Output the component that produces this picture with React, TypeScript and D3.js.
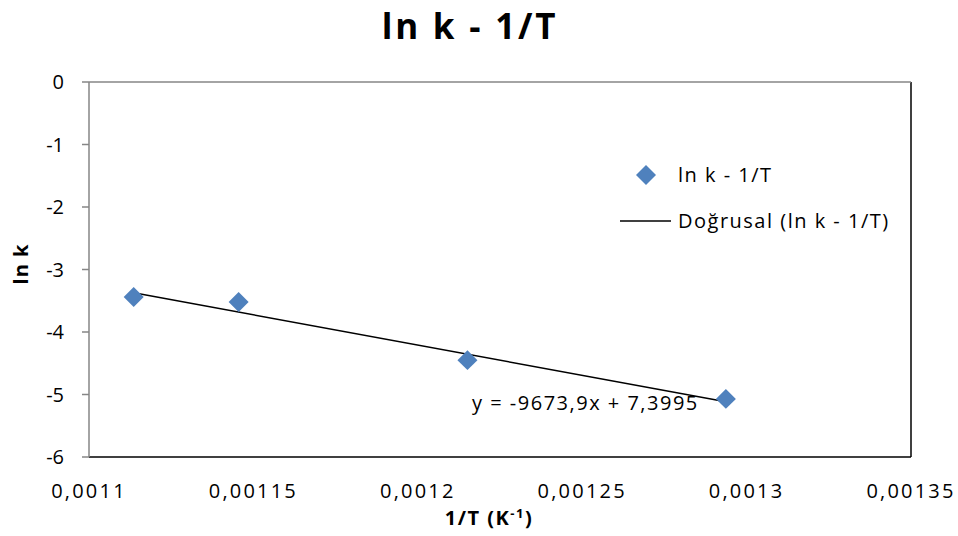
import React from 'react';
import { scaleLinear, line, symbol, symbolSquare } from 'd3';

// 1/T (K^-1) and ln k values
const invT = [0.0011136, 0.0011455, 0.0012151, 0.0012937];
const lnK = [-3.44, -3.52, -4.45, -5.07];
const xTicks = [0.0011, 0.00115, 0.0012, 0.00125, 0.0013, 0.00135];
const xTickLabels = ['0,0011', '0,00115', '0,0012', '0,00125', '0,0013', '0,00135'];
const yTicks = [0, -1, -2, -3, -4, -5, -6];
// trendline shown on the chart
const slope = -9673.9;
const intercept = 7.3995;
const eqLabel = 'y = -9673,9x + 7,3995';

const W = 958;
const H = 536;
const margin = { top: 82, right: 47, bottom: 79, left: 89 };
const font = '"Open Sans", Lato, sans-serif';
const fs = 20;

export default function App() {
  const w = W - margin.left - margin.right;
  const h = H - margin.top - margin.bottom;

  const x = scaleLinear().domain([0.0011, 0.00135]).range([0, w]);
  const y = scaleLinear().domain([-6, 0]).range([h, 0]);

  const xMin = Math.min(...invT);
  const xMax = Math.max(...invT);
  const trend = line<number>()
    .x((d) => x(d))
    .y((d) => y(slope * d + intercept));

  // excel-style diamond: square turned 45 degrees
  const diamond = symbol().type(symbolSquare).size(200)();

  return (
    <svg width={W} height={H} style={{ position: 'absolute', left: 0, top: 0, background: '#fff' }}>
      <text x={470} y={39} textAnchor="middle" fontFamily={font} fontWeight="bold" fontSize={35} letterSpacing={2.8}>
        ln k - 1/T
      </text>

      <g transform={`translate(${margin.left},${margin.top})`}>
        {/* plot border */}
        <line x1={w} x2={w} y1={0} y2={h} stroke="#000" strokeWidth={1.5} />
        <line x1={0} x2={w} y1={h} y2={h} stroke="#000" strokeWidth={1.5} />
        {/* axes */}
        <line x1={0} x2={w} y1={y(0)} y2={y(0)} stroke="#868686" strokeWidth={1.5} />
        <line x1={0} x2={0} y1={0} y2={h} stroke="#868686" strokeWidth={1.5} />

        {yTicks.map((t) => (
          <g key={t}>
            <line x1={-7} x2={0} y1={y(t)} y2={y(t)} stroke="#868686" strokeWidth={1.5} />
            <text x={-25} y={y(t)} dy="0.36em" textAnchor="end" fontFamily={font} fontSize={fs}>
              {t}
            </text>
          </g>
        ))}

        {xTicks.map((t, i) => (
          <text
            key={t}
            x={x(t)}
            y={h + 41}
            textAnchor="middle"
            fontFamily={font}
            fontSize={fs}
            letterSpacing={2.2}
          >
            {xTickLabels[i]}
          </text>
        ))}

        <path d={trend([xMin, xMax]) || ''} fill="none" stroke="#000" strokeWidth={1.5} />

        {invT.map((v, i) => (
          <path
            key={i}
            d={diamond}
            transform={`translate(${x(v)},${y(lnK[i])}) rotate(45)`}
            fill="#4F81BD"
          />
        ))}

        <text x={383} y={328} fontFamily={font} fontSize={fs} letterSpacing={1.5}>
          {eqLabel}
        </text>
      </g>

      {/* axis titles */}
      <text x={489} y={525} textAnchor="middle" fontFamily={font} fontWeight="bold" fontSize={fs} letterSpacing={1.5}>
        1/T (K<tspan dy={-7} fontSize={13}>-1</tspan>
        <tspan dy={7}>)</tspan>
      </text>
      <text
        transform="translate(28,264) rotate(-90)"
        textAnchor="middle"
        fontFamily={font}
        fontWeight="bold"
        fontSize={fs}
        letterSpacing={1}
      >
        ln k
      </text>

      {/* legend */}
      <path d={diamond} transform="translate(646,175) rotate(45)" fill="#4F81BD" />
      <text x={678} y={182} fontFamily={font} fontSize={fs} letterSpacing={1.5}>
        ln k - 1/T
      </text>
      <line x1={620} x2={671} y1={221} y2={221} stroke="#000" strokeWidth={1.5} />
      <text x={678} y={228} fontFamily={font} fontSize={fs} letterSpacing={1.5}>
        Doğrusal (ln k - 1/T)
      </text>
    </svg>
  );
}
